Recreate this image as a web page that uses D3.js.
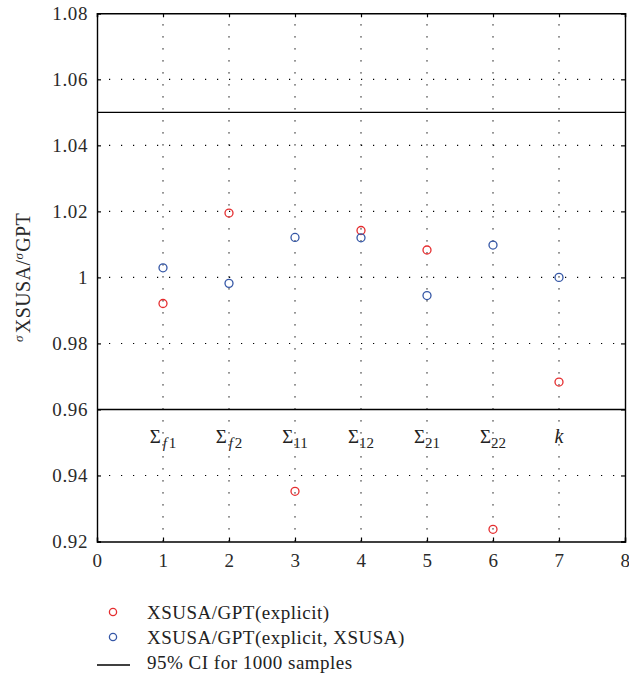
<!DOCTYPE html>
<html>
<head>
<meta charset="utf-8">
<script src="https://cdn.jsdelivr.net/npm/d3@7"></script>
<style>
  html, body { margin: 0; padding: 0; background: #fff; }
  svg { display: block; }
  svg text { font-family: 'Liberation Serif', 'DejaVu Serif', serif; }
</style>
</head>
<body>
<svg id="chart" width="629" height="680"></svg>
<script>
// Parameter positions on the x axis and their symbols
const positions = [1, 2, 3, 4, 5, 6, 7];
const paramLabels = [
  { base: "Σ", sub: "f", sub2: "1" },
  { base: "Σ", sub: "f", sub2: "2" },
  { base: "Σ", sub: "", sub2: "11" },
  { base: "Σ", sub: "", sub2: "12" },
  { base: "Σ", sub: "", sub2: "21" },
  { base: "Σ", sub: "", sub2: "22" },
  { base: "k", sub: "", sub2: "" }
];

// Ratio of standard deviations, XSUSA over GPT
const explicitRatio = [0.9921, 1.0195, 0.9352, 1.0142, 1.0083, 0.9237, 0.9683];
const explicitXsusaRatio = [1.0029, 0.9982, 1.0121, 1.0120, 0.9945, 1.0098, 1.0000];

// 95% confidence interval bounds for 1000 samples
const ciBounds = [1.05, 0.96];

const xTicks = [0, 1, 2, 3, 4, 5, 6, 7, 8];
const yTicks = [0.92, 0.94, 0.96, 0.98, 1.00, 1.02, 1.04, 1.06, 1.08];

const seriesNames = ["XSUSA/GPT(explicit)", "XSUSA/GPT(explicit, XSUSA)", "95% CI for 1000 samples"];
const RED = "#e52d2f", BLUE = "#3557a6";

const svg = d3.select("#chart");
const plotLeft = 97, plotRight = 625, plotTop = 13.3, plotBottom = 541.5;

const x = d3.scaleLinear().domain([0, 8]).range([plotLeft, plotRight]);
const y = d3.scaleLinear().domain([0.92, 1.08]).range([plotBottom, plotTop]);

// dotted grid
const grid = svg.append("g");
grid.selectAll("line.v").data(positions).join("line")
  .attr("x1", d => x(d)).attr("x2", d => x(d))
  .attr("y1", plotBottom).attr("y2", plotTop)
  .attr("stroke", "#000").attr("stroke-width", 1.1)
  .attr("stroke-dasharray", "1.2,10.8");
grid.selectAll("line.h").data(yTicks.slice(1, -1)).join("line")
  .attr("y1", d => y(d)).attr("y2", d => y(d))
  .attr("x1", plotLeft).attr("x2", plotRight)
  .attr("stroke", "#000").attr("stroke-width", 1.1)
  .attr("stroke-dasharray", "1.2,10.8");

// axes with inward ticks
const fmtY = d => (d === 1 ? "1" : d3.format(".2f")(d));
const xAxis = svg.append("g").attr("transform", `translate(0,${plotBottom})`)
  .call(d3.axisBottom(x).tickValues(xTicks).tickSize(-4).tickPadding(15).tickFormat(d3.format("d")));
const yAxis = svg.append("g").attr("transform", `translate(${plotLeft},0)`)
  .call(d3.axisLeft(y).tickValues(yTicks).tickSize(-4).tickPadding(9).tickFormat(fmtY));
svg.append("g").attr("transform", `translate(0,${plotTop})`)
  .call(d3.axisTop(x).tickValues(xTicks).tickSize(-4).tickFormat(""));
svg.append("g").attr("transform", `translate(${plotRight},0)`)
  .call(d3.axisRight(y).tickValues(yTicks).tickSize(-4).tickFormat(""));

svg.selectAll("g").attr("font-family", null);
svg.selectAll(".domain").attr("stroke", "#000").attr("stroke-width", 1.4);
svg.selectAll(".tick line").attr("stroke", "#000").attr("stroke-width", 1.2);
svg.selectAll(".tick text")
  .attr("font-size", 19).attr("letter-spacing", 0.6).attr("fill", "#2a2a2a");
xAxis.selectAll(".tick text").attr("dy", "0.55em");
yAxis.selectAll(".tick text").attr("dy", "0.33em");

// confidence interval lines
svg.append("g").selectAll("line").data(ciBounds).join("line")
  .attr("x1", plotLeft).attr("x2", plotRight)
  .attr("y1", d => y(d)).attr("y2", d => y(d))
  .attr("stroke", "#000").attr("stroke-width", 1.4);

// parameter symbols
const labelY = y(0.9497);
const lab = svg.append("g").selectAll("text").data(positions).join("text")
  .attr("x", d => x(d)).attr("y", labelY)
  .attr("text-anchor", "middle")
  .attr("font-size", 19).attr("fill", "#222");
lab.each(function(d, i) {
  const t = d3.select(this);
  const L = paramLabels[i];
  if (L.base === "k") {
    t.append("tspan").attr("font-style", "italic").attr("font-size", 20).text("k");
    return;
  }
  t.append("tspan").text(L.base);
  if (L.sub) {
    t.append("tspan").attr("font-style", "italic").attr("font-size", 15)
      .attr("dy", 5).attr("dx", 2).text(L.sub);
    t.append("tspan").attr("font-size", 15).attr("dx", 2).text(L.sub2);
  } else {
    t.append("tspan").attr("font-size", 15).attr("dy", 5).text(L.sub2);
  }
});

// data points
const pts = svg.append("g");
pts.selectAll("circle.r").data(explicitRatio).join("circle")
  .attr("cx", (d, i) => x(positions[i])).attr("cy", d => y(d))
  .attr("r", 4).attr("fill", "none").attr("stroke", RED).attr("stroke-width", 1.3);
pts.selectAll("circle.b").data(explicitXsusaRatio).join("circle")
  .attr("cx", (d, i) => x(positions[i])).attr("cy", d => y(d))
  .attr("r", 4).attr("fill", "none").attr("stroke", BLUE).attr("stroke-width", 1.3);

// y axis title
const yt = svg.append("text")
  .attr("transform", `translate(30,${y(1.0)}) rotate(-90)`)
  .attr("text-anchor", "middle").attr("font-size", 20).attr("letter-spacing", 0.4).attr("fill", "#2a2a2a");
yt.append("tspan").attr("font-style", "italic").attr("font-size", 13).attr("dy", -7).text("σ");
yt.append("tspan").attr("dy", 7).attr("dx", 2).text("XSUSA/");
yt.append("tspan").attr("font-style", "italic").attr("font-size", 13).attr("dy", -7).text("σ");
yt.append("tspan").attr("dy", 7).attr("dx", 1).text("GPT");

// legend
const leg = svg.append("g").attr("font-size", 19).attr("letter-spacing", 0.5).attr("fill", "#222");
const legY = [612, 637, 662];
leg.append("circle").attr("cx", 113).attr("cy", legY[0]).attr("r", 3.6)
  .attr("fill", "none").attr("stroke", RED).attr("stroke-width", 1.3);
leg.append("circle").attr("cx", 113).attr("cy", legY[1]).attr("r", 3.6)
  .attr("fill", "none").attr("stroke", BLUE).attr("stroke-width", 1.3);
leg.append("line").attr("x1", 97).attr("x2", 130).attr("y1", legY[2] + 3).attr("y2", legY[2] + 3)
  .attr("stroke", "#000").attr("stroke-width", 1.4);
leg.selectAll("text").data(seriesNames).join("text")
  .attr("x", 147).attr("y", (d, i) => legY[i]).attr("dy", "0.35em").text(d => d);
</script>
</body>
</html>
